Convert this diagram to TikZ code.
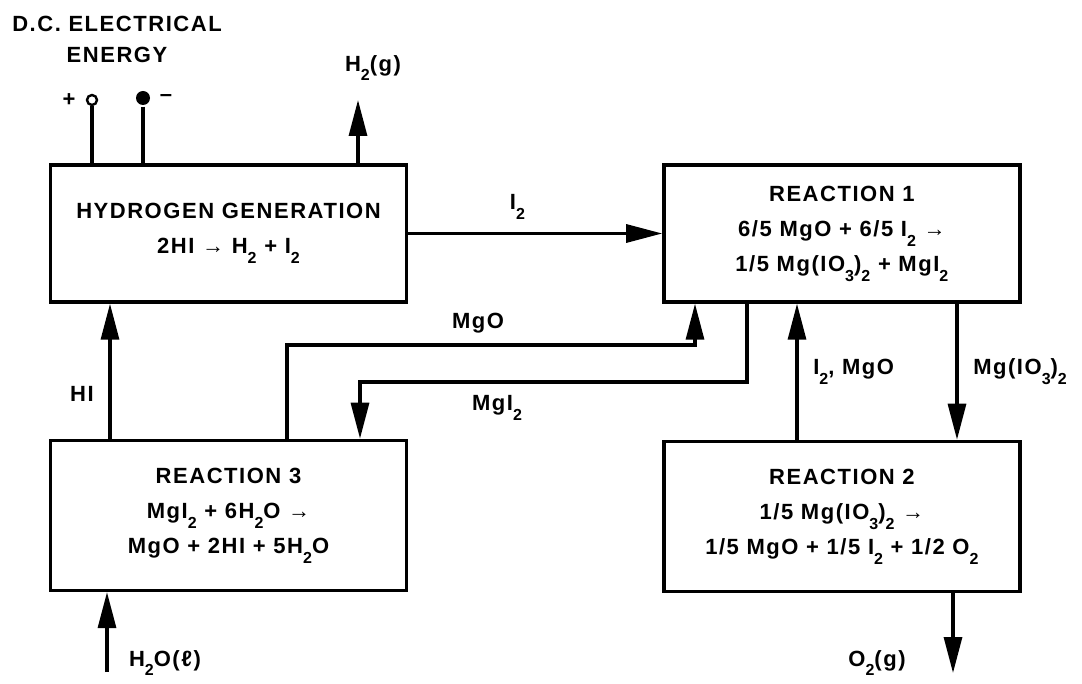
\documentclass[tikz,border=0pt]{standalone}
\usepackage{fontspec}
\setmainfont{Liberation Sans}[LetterSpace=7]
\usetikzlibrary{arrows.meta, positioning}
% lowered subscript as in the hand lettering
\newcommand{\lo}[1]{\raisebox{-0.45em}{\fontsize{8}{8}\selectfont #1}}

\begin{document}
\begin{tikzpicture}[x=0.5pt, y=-0.5pt, line width=1.6pt,
    every node/.style={font=\fontsize{11}{17.5}\selectfont\bfseries},
    stage/.style={rectangle, draw, line width=1.7pt, align=center, minimum width=178pt},
    flow/.style={-{Triangle[length=18pt, width=9pt]}}]
  \useasboundingbox (0,0) rectangle (1082,684);

  \node (hyd) [stage, minimum height=68.5pt] at (228.5,233.5) {HYDROGEN GENERATION\\2HI → H\lo{2} + I\lo{2}};
  \node (r1) [stage, minimum height=68.5pt, right=127pt of hyd] {REACTION 1\\6/5 MgO + 6/5 I\lo{2} →\\1/5 Mg(IO\lo{3})\lo{2} + MgI\lo{2}};
  \node (r3) [stage, minimum height=75pt, below=67.5pt of hyd] {REACTION 3\\MgI\lo{2} + 6H\lo{2}O →\\MgO + 2HI + 5H\lo{2}O};
  \node (r2) [stage, minimum height=75pt, below=68pt of r1] {REACTION 2\\1/5 Mg(IO\lo{3})\lo{2} →\\1/5 MgO + 1/5 I\lo{2} + 1/2 O\lo{2}};

  % power supply
  \node (dc) [align=center] at (117,39) {D.C. ELECTRICAL\\[-2pt]ENERGY};
  \node (pos) [circle, draw, fill=white, inner sep=0pt, minimum size=5pt, line width=1.2pt] at (92,100) {};
  \node (neg) [circle, fill, inner sep=0pt, minimum size=7pt] at (143,98) {};
  \node (possign) [left=1pt of pos] {+};
  \node (negsign) [right=0pt of neg] {–};
  \draw (pos) -- (pos |- hyd.north);
  \draw (neg) -- (neg |- hyd.north);

  % lanes
  \coordinate (h2out) at (358,100);
  \coordinate (hi) at (110,370);
  \coordinate (water) at (107,672);
  \coordinate (mgoA) at (287,345);
  \coordinate (mgoB) at (695,345);
  \coordinate (mgiA) at (747,382);
  \coordinate (mgiB) at (360,382);
  \coordinate (back) at (797,370);
  \coordinate (iod) at (957,370);
  \coordinate (oxy) at (953,673);

  \draw[flow] (h2out |- hyd.north) -- (h2out);
  \node (h2lbl) at (373,68) {H\lo{2}(g)};

  \draw[flow] (hyd) -- node[pos=0.43, above=3pt] (i2lbl) {I\lo{2}} (r1);

  \draw[flow] (r3.north -| mgoA) -- (mgoA) -- (mgoB) -- (r1.south -| mgoB);
  \node (mgolbl) at (478,323) {MgO};

  \draw[flow] (r1.south -| mgiA) -- (mgiA) -- (mgiB) -- (r3.north -| mgiB);
  \node (mgilbl) at (497,408) {MgI\lo{2}};

  \draw[flow] (r3.north -| hi) -- node[pos=0.33, left=4pt] (hilbl) {HI} (hyd.south -| hi);
  \draw[flow] (r2.north -| back) -- node[pos=0.5, right=4pt] (backlbl) {I\lo{2}, MgO} (r1.south -| back);
  \draw[flow] (r1.south -| iod) -- node[pos=0.5, right=4pt] (iodlbl) {Mg(IO\lo{3})\lo{2}} (r2.north -| iod);

  \draw[flow] (water) -- (r3.south -| water);
  \node (waterlbl) at (165,663) {H\lo{2}O(ℓ)};
  \draw[flow] (r2.south -| oxy) -- (oxy);
  \node (oxylbl) at (877,663) {O\lo{2}(g)};
\end{tikzpicture}
\end{document}
